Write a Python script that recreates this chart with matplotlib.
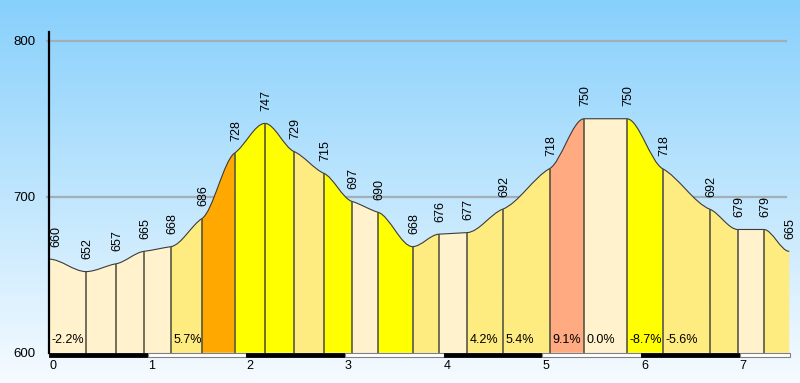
import numpy as np
import matplotlib
matplotlib.use("Agg")
import matplotlib.pyplot as plt
from matplotlib.path import Path
from matplotlib.patches import PathPatch, Rectangle

# -----------------------------
# Data
# -----------------------------
dist_km = [0.0, 0.375, 0.679, 0.963, 1.236, 1.550, 1.881, 2.188, 2.482, 2.786,
           3.070, 3.336, 3.685, 3.951, 4.238, 4.597, 5.073, 5.424, 5.856, 6.218,
           6.697, 6.981, 7.244, 7.502]
elev_m = [660, 652, 657, 665, 668, 686, 728, 747, 729, 715,
          697, 690, 668, 676, 677, 692, 718, 750, 750, 718,
          692, 679, 679, 665]

CREAM = "#FFF2CC"
LIGHT = "#FFEC80"
YELLOW = "#FFFF00"
ORANGE = "#FFA800"
SALMON = "#FFAA80"

seg_colors = [CREAM, CREAM, CREAM, CREAM, LIGHT, ORANGE, YELLOW, YELLOW, LIGHT,
              YELLOW, CREAM, YELLOW, LIGHT, CREAM, LIGHT, LIGHT, SALMON, CREAM,
              YELLOW, LIGHT, LIGHT, CREAM, LIGHT]
grade_labels = ["-2.2%", "", "", "", "5.7%", "", "", "", "", "", "", "", "", "",
                "4.2%", "5.4%", "9.1%", "0.0%", "-8.7%", "-5.6%", "", "", ""]

y_ticks = [600, 700, 800]
x_ticks = [0, 1, 2, 3, 4, 5, 6, 7]

plt.rcParams["font.family"] = ["Liberation Sans", "DejaVu Sans"]

fig = plt.figure(figsize=(8.0, 3.83), dpi=100)

# -----------------------------
# Background gradient
# -----------------------------
bg = fig.add_axes([0, 0, 1, 1], zorder=-1)
top = np.array([135, 208, 252]) / 255.0
bot = np.array([246, 251, 255]) / 255.0
t = np.linspace(0, 1, 256)[:, None]
grad = (top * (1 - t) + bot * t)[:, None, :]
bg.imshow(grad, aspect="auto", extent=[0, 1, 0, 1])
bg.axis("off")

ax = fig.add_axes([0.06125, 0.0791, 0.9263, 0.8373])
ax.set_facecolor("none")
ax.set_xlim(0, 7.51)
ax.set_ylim(600, 805.6)

# grid lines
for v in [700, 800]:
    ax.plot([-0.02, 7.47], [v, v], color="#A3AEB8", lw=1.6, zorder=1, clip_on=False)

# -----------------------------
# Smoothed profile (monotone-style tangents, damped)
# -----------------------------
x = np.array(dist_km)
y = np.array(elev_m, dtype=float)
d = np.diff(y) / np.diff(x)
m = np.zeros_like(y)
for i in range(1, len(y) - 1):
    if d[i - 1] * d[i] > 0:
        m[i] = 2 * d[i - 1] * d[i] / (d[i - 1] + d[i])
m *= 0.5

base = 600
outline_verts = []
outline_codes = []
for i in range(len(x) - 1):
    x0, x1 = x[i], x[i + 1]
    y0, y1 = y[i], y[i + 1]
    h = (x1 - x0) / 3
    c1 = (x0 + h, y0 + m[i] * h)
    c2 = (x1 - h, y1 - m[i + 1] * h)
    verts = [(x0, base), (x0, y0), c1, c2, (x1, y1), (x1, base), (x0, base)]
    codes = [Path.MOVETO, Path.LINETO, Path.CURVE4, Path.CURVE4, Path.CURVE4,
             Path.LINETO, Path.CLOSEPOLY]
    ax.add_patch(PathPatch(Path(verts, codes), facecolor=seg_colors[i],
                           edgecolor="none", zorder=2))
    if i == 0:
        outline_verts.append((x0, y0))
        outline_codes.append(Path.MOVETO)
    outline_verts += [c1, c2, (x1, y1)]
    outline_codes += [Path.CURVE4] * 3

    if grade_labels[i]:
        ax.annotate(grade_labels[i], (x0, 604), xytext=(2, 0),
                    textcoords="offset points", fontsize=9, ha="left",
                    va="bottom", zorder=5)

ax.add_patch(PathPatch(Path(outline_verts, outline_codes), facecolor="none",
                       edgecolor="#3C3C3C", lw=0.8, zorder=3))
ax.vlines(dist_km[1:-1], base, elev_m[1:-1], color="#4A4A3C", lw=1.1, zorder=3)

# elevation labels
for i, (xx, yy) in enumerate(zip(dist_km, elev_m)):
    dx = 5 if i == 0 else 1
    ax.annotate(str(yy), (xx, yy), xytext=(dx, 9), textcoords="offset points",
                rotation=90, fontsize=9, ha="center", va="bottom", zorder=5,
                annotation_clip=False)

# -----------------------------
# Distance scale bar
# -----------------------------
for k in range(8):
    w = min(1.0, 7.51 - k)
    if k % 2 == 0:
        ax.add_patch(Rectangle((k, 597.2), w, 2.8, facecolor="black",
                               edgecolor="black", lw=0.6, clip_on=False, zorder=4))
    else:
        ax.add_patch(Rectangle((k, 597.2), w, 2.8, facecolor="white",
                               edgecolor="#808080", lw=0.8, clip_on=False, zorder=4))

# -----------------------------
# Axes styling
# -----------------------------
for s in ["top", "right", "bottom"]:
    ax.spines[s].set_visible(False)
ax.spines["left"].set_linewidth(1.6)
ax.spines["left"].set_color("black")
ax.spines["left"].set_zorder(6)

ax.set_yticks(y_ticks)
ax.set_yticklabels([str(v) for v in y_ticks], fontsize=9.5)
ax.set_xticks(x_ticks)
ax.set_xticklabels([str(v) for v in x_ticks], fontsize=9, ha="left")
ax.tick_params(axis="y", length=0, pad=10)
ax.tick_params(axis="x", length=0, pad=5)

fig.savefig("out.png", dpi=100)
